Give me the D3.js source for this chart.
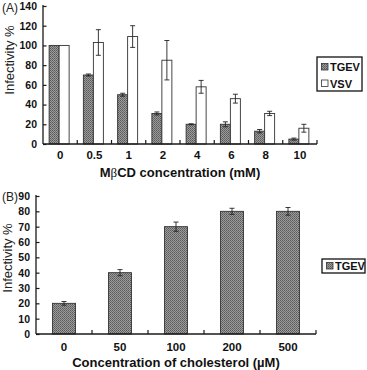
<!DOCTYPE html>
<html><head><meta charset="utf-8">
<script src="https://cdn.jsdelivr.net/npm/d3@7"></script>
<style>
body{margin:0;background:#fff;}
svg{display:block;}
text{font-family:"Liberation Sans",Arial,sans-serif;}
</style></head>
<body>
<svg id="c" width="367" height="370"></svg>
<script>
// Panel A data
const catsA = ["0","0.5","1","2","4","6","8","10"];
const tgevA = [100,70,50,31,20,20,13,5];
const tgevErrA = [0,1,1.5,1.5,0.5,2.5,1.7,1];
const vsvA = [100,103,109,85,58,46,31,16];
const vsvErrA = [0,13,11,20,6.5,4.5,2.2,4];
const ticksA = [0,20,40,60,80,100,120,140];
// Panel B data
const catsB = ["0","50","100","200","500"];
const tgevB = [20,40,70,80,80];
const tgevErrB = [1.2,2,3,2,2.5];
const ticksB = [0,10,20,30,40,50,60,70,80,90];

const svg = d3.select("#c");
const defs = svg.append("defs");
const pat = defs.append("pattern").attr("id","hatch").attr("patternUnits","userSpaceOnUse")
  .attr("width",2).attr("height",2);
pat.append("rect").attr("width",2).attr("height",2).attr("fill","#9c9c9c");
pat.append("rect").attr("width",1).attr("height",1).attr("fill","#5a5a5a");
pat.append("rect").attr("x",1).attr("y",1).attr("width",1).attr("height",1).attr("fill","#6a6a6a");

const axisColor = "#1a1a1a";

function panel(opts){
  const g = svg.append("g");
  const x = d3.scaleBand().domain(opts.cats).range([opts.x0,opts.x1]).paddingInner(0).paddingOuter(0);
  const y = d3.scaleLinear().domain([0,opts.ymax]).range([opts.y0,opts.y1]);
  // bars
  opts.series.forEach((s,si)=>{
    const sub = d3.scaleBand().domain(d3.range(opts.series.length)).range([0,opts.groupW]);
    const off = (x.bandwidth()-opts.groupW)/2 - opts.shift;
    s.values.forEach((v,i)=>{
      const bx = x(opts.cats[i]) + off + sub(si);
      g.append("rect").attr("x",bx).attr("y",y(v)).attr("width",sub.bandwidth())
        .attr("height",y(0)-y(v)).attr("fill",s.fill).attr("stroke","#333").attr("stroke-width",0.9);
      const e = s.err[i];
      if(e>0){
        const cx = bx + sub.bandwidth()/2;
        g.append("line").attr("x1",cx).attr("x2",cx).attr("y1",y(v+e)).attr("y2",y(v-e)).attr("stroke","#222").attr("stroke-width",0.9);
        [v+e,v-e].forEach(t=>g.append("line").attr("x1",cx-2.5).attr("x2",cx+2.5).attr("y1",y(t)).attr("y2",y(t)).attr("stroke","#222").attr("stroke-width",0.9));
      }
    });
  });
  // y axis
  const ya = g.append("g").attr("transform",`translate(${opts.x0},0)`)
    .call(d3.axisLeft(y).tickValues(opts.ticks).tickSize(-3.5).tickPadding(opts.tickPad).tickSizeOuter(0));
  ya.select(".domain").attr("d",`M0,${opts.y0}V${opts.y1-1}`).attr("stroke",axisColor).attr("stroke-width",1.3);
  ya.selectAll(".tick line").attr("stroke",axisColor).attr("stroke-width",1.2);
  ya.selectAll(".tick text").attr("font-size",opts.yFont).attr("font-weight","bold").attr("fill","#111");
  // x axis
  const xa = g.append("g").attr("transform",`translate(0,${opts.y0})`)
    .call(d3.axisBottom(x).tickSize(0).tickPadding(opts.xPad));
  xa.select(".domain").attr("d",`M${opts.x0},0H${opts.x1}`).attr("stroke",axisColor).attr("stroke-width",1.3);
  xa.selectAll(".tick text").attr("font-size",opts.xFont).attr("font-weight","bold").attr("fill","#111");
  opts.cats.forEach((c,i)=>{
    const bx = x(c)+x.bandwidth();
    g.append("line").attr("x1",bx).attr("x2",bx).attr("y1",opts.y0).attr("y2",opts.y0-4).attr("stroke",axisColor).attr("stroke-width",1.2);
  });
  // titles
  g.append("text").attr("x",opts.ylabX).attr("y",opts.ylabY).attr("transform",`rotate(-90,${opts.ylabX},${opts.ylabY})`)
    .attr("text-anchor","middle").attr("font-size",13).attr("fill","#222").attr("dominant-baseline","middle").text("Infectivity %");
  const t = g.append("text").attr("x",(opts.x0+opts.x1)/2).attr("y",opts.titleY).attr("text-anchor","middle")
    .attr("font-size",13).attr("font-weight","bold").attr("fill","#111");
  opts.title.forEach(p=>{
    const ts = t.append("tspan").text(p.t);
    if(p.serif) ts.attr("font-family","'Liberation Serif','DejaVu Serif',serif").attr("font-weight","normal");
  });
  g.append("text").attr("x",2).attr("y",opts.tagY).attr("font-size",12).attr("fill","#222").text(opts.tag);
  // legend
  const L = opts.legend;
  g.append("rect").attr("x",L.x).attr("y",L.y).attr("width",L.w).attr("height",L.h).attr("fill","#fff").attr("stroke","#111").attr("stroke-width",1.3);
  opts.series.forEach((s,si)=>{
    const ly = L.y + L.first + si*L.step;
    g.append("rect").attr("x",L.x+4.5).attr("y",ly-3.5).attr("width",6.5).attr("height",6.5).attr("fill",s.fill).attr("stroke","#333").attr("stroke-width",0.8);
    g.append("text").attr("x",L.x+13).attr("y",ly).attr("dominant-baseline","central").attr("font-size",11).attr("font-weight","bold").attr("fill","#111").text(s.name);
  });
}

panel({
  cats:catsA, x0:43, x1:317, y0:144, y1:6, ymax:140, ticks:ticksA,
  series:[{name:"TGEV",values:tgevA,err:tgevErrA,fill:"url(#hatch)"},{name:"VSV",values:vsvA,err:vsvErrA,fill:"#fff"}],
  groupW:20, shift:1, tickPad:6, yFont:10.5, xFont:11.5, xPad:7,
  ylabX:11, ylabY:60, title:[{t:"M"},{t:"\u03B2",serif:true},{t:"CD concentration (mM)"}], titleY:177, tag:"(A)", tagY:12,
  legend:{x:317,y:57,w:45,h:34,first:10,step:16.5}
});
panel({
  cats:catsB, x0:36, x1:316, y0:334, y1:196, ymax:90, ticks:ticksB,
  series:[{name:"TGEV",values:tgevB,err:tgevErrB,fill:"url(#hatch)"}],
  groupW:23, shift:0, tickPad:6, yFont:10.5, xFont:11.5, xPad:9,
  ylabX:9, ylabY:258, title:[{t:"Concentration of cholesterol (\u00B5M)"}], titleY:367, tag:"(B)", tagY:201,
  legend:{x:322,y:259,w:43,h:14,first:7,step:16}
});
</script>
</body></html>
